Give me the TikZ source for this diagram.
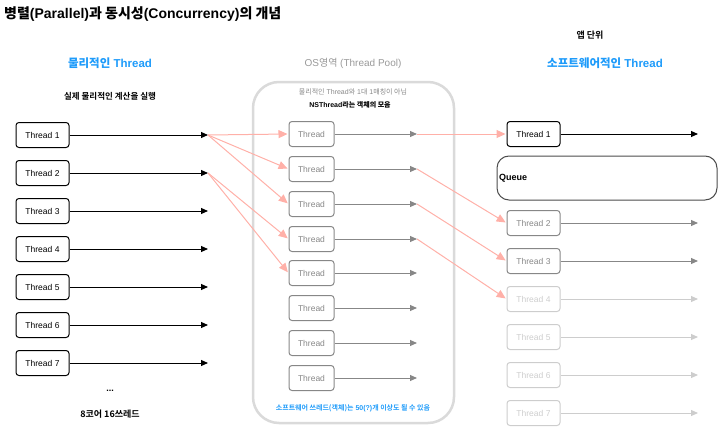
\documentclass[tikz,border=0pt]{standalone}
\usepackage{fontspec}
\setmainfont{Liberation Sans}
\newfontfamily\kr{Noto Sans CJK KR}
\newfontfamily\krb{Noto Sans CJK KR Bold}
\usetikzlibrary{arrows.meta}
\definecolor{myblue}{RGB}{30,155,250}
\definecolor{mypink}{RGB}{255,176,168}
\definecolor{midgray}{RGB}{135,135,135}
\definecolor{ltgray}{RGB}{205,205,205}
\definecolor{poolgray}{RGB}{218,218,218}
\tikzset{
  thr/.style={draw, rounded corners=3pt, minimum width=53pt, minimum height=25pt, line width=1pt, inner sep=0pt, font=\fontsize{8.5}{10}\selectfont},
  pthr/.style={thr, draw=midgray, text=midgray, minimum width=45pt},
  gthr/.style={thr, draw=midgray, text=midgray},
  lthr/.style={thr, draw=ltgray, text=ltgray},
  blk/.style={line width=1pt, -{Triangle[length=7pt,width=6pt]}},
  gar/.style={line width=1pt, draw=midgray, -{Triangle[length=7pt,width=6pt]}},
  lar/.style={line width=1pt, draw=ltgray, -{Triangle[length=7pt,width=6pt]}},
  pk/.style={line width=1pt, draw=mypink, -{Triangle[length=9pt,width=8pt]}, shorten >=1pt},
  lbl/.style={inner sep=0pt, anchor=center}
}
\begin{document}
\begin{tikzpicture}[x=1pt,y=-1pt]
\useasboundingbox (0,0) rectangle (720,428);
% title
\node[lbl, anchor=west, font=\fontsize{14}{16}\selectfont\bfseries] (title) at (4,14) {{\krb 병렬}(Parallel){\krb 과 동시성}(Concurrency){\krb 의 개념}};
% left header
\node[lbl, text=myblue, font=\fontsize{11.5}{13}\selectfont\bfseries] (lh) at (110,63) {{\krb 물리적인} Thread};
\node[lbl, font=\fontsize{8.5}{10}\selectfont] (lsub) at (110,96) {\krb 실제 물리적인 계산을 실행};
% middle header
\node[lbl, text=midgray!85, font=\fontsize{10}{12}\selectfont] (mh) at (353,63) {OS{\kr 영역} (Thread Pool)};
% pool frame
\draw[draw=poolgray, line width=2.5pt, rounded corners=26pt] (253,82) rectangle (454,423);
\node[lbl, text=midgray, font=\fontsize{7}{8}\selectfont] (msub1) at (353,92) {{\kr 물리적인} Thread{\kr 와} 1{\kr 대} 1{\kr 매칭이 아님}};
\node[lbl, font=\fontsize{7}{8}\selectfont\bfseries] (msub2) at (350,105) {NSThread{\krb 라는 객체의 모음}};
\node[lbl, text=myblue, font=\fontsize{7}{8}\selectfont] (mfoot) at (353,408) {{\krb 소프트웨어 쓰레드(객체)는} \textbf{50(?)}{\krb 개 이상도 될 수 있음}};
% right header
\node[lbl, font=\fontsize{9}{11}\selectfont] (rh0) at (590,35) {\krb 앱 단위};
\node[lbl, text=myblue, font=\fontsize{11.5}{13}\selectfont\bfseries] (rh) at (605,63) {{\krb 소프트웨어적인} Thread};
% left threads
\foreach \i/\y in {1/135,2/173,3/211,4/249,5/287,6/325,7/363}{
  \node[thr] (L\i) at (42.5,\y) {Thread \i};
  \coordinate (LA\i) at (208,\y);
  \draw[blk] (L\i) -- (LA\i);
}
\node[lbl, font=\fontsize{9}{10}\selectfont\bfseries] (dots) at (110,391) {...};
\node[lbl, font=\fontsize{9}{11}\selectfont] (cores) at (110,414) {{\krb 8코어 16쓰레드}};
% middle threads
\foreach \i/\y in {1/134,2/169,3/204,4/239,5/273,6/308,7/343,8/378}{
  \node[pthr] (M\i) at (311.5,\y) {Thread};
  \coordinate (MA\i) at (417,\y);
  \draw[gar] (M\i) -- (MA\i);
}
% right threads
\node[thr] (R1) at (533.5,134) {Thread 1};
\coordinate (RA1) at (698,134);
\draw[blk] (R1) -- (RA1);
\node[draw=black!70, line width=1pt, rounded corners=12pt, minimum width=220pt, minimum height=44pt, inner sep=0pt] (Q) at (607,178) {};
\node[lbl, anchor=west, font=\fontsize{9}{11}\selectfont\bfseries] (qt) at (499,178) {Queue};
\foreach \i/\y in {2/223,3/261}{
  \node[gthr] (R\i) at (533.5,\y) {Thread \i};
  \coordinate (RA\i) at (698,\y);
  \draw[gar] (R\i) -- (RA\i);
}
\foreach \i/\y in {4/299,5/337,6/375,7/413}{
  \node[lthr] (R\i) at (533.5,\y) {Thread \i};
  \coordinate (RA\i) at (698,\y);
  \draw[lar] (R\i) -- (RA\i);
}
% pink mapping arrows
\draw[pk] (LA1) -- (M1.west);
\draw[pk] (LA1) -- (M2.west);
\draw[pk] (LA1) -- (M3.west);
\draw[pk] (LA2) -- (M4.west);
\draw[pk] (LA2) -- (M5.west);
\draw[pk] (MA1) -- (R1.west);
\draw[pk] (MA2) -- (R2.west);
\draw[pk] (MA3) -- (R3.west);
\draw[pk] (MA4) -- (R4.west);
\end{tikzpicture}
\end{document}
